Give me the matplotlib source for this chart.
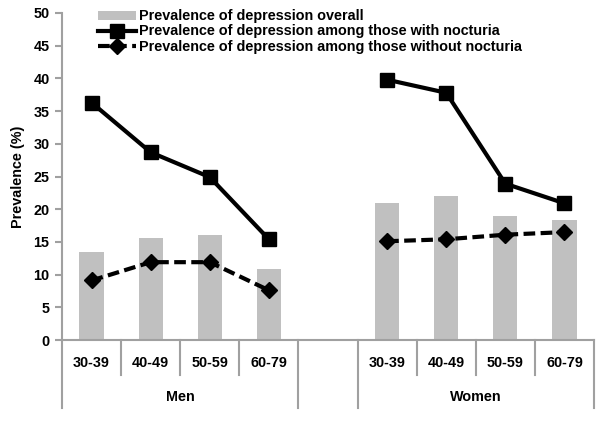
import matplotlib
matplotlib.use("Agg")
import matplotlib.pyplot as plt
from matplotlib.lines import Line2D
from matplotlib.patches import Patch
import matplotlib.transforms as mtransforms

plt.rcParams['font.family'] = ['Liberation Sans', 'DejaVu Sans']
plt.rcParams['font.weight'] = 'bold'

age_groups = ["30-39", "40-49", "50-59", "60-79"]
sexes = ["Men", "Women"]
overall_men = [13.5, 15.6, 16.0, 10.8]
overall_women = [20.9, 22.0, 18.9, 18.3]
with_men = [36.3, 28.7, 24.9, 15.4]
with_women = [39.8, 37.8, 23.9, 20.9]
without_men = [9.1, 11.9, 11.9, 7.6]
without_women = [15.1, 15.4, 16.1, 16.5]
legend_labels = ["Prevalence of depression overall",
                 "Prevalence of depression among those with nocturia",
                 "Prevalence of depression among those without nocturia"]

W, H = 600, 421
fig = plt.figure(figsize=(6, 4.21), dpi=100)
ax = fig.add_axes([62 / W, (H - 340) / H, (594 - 62) / W, (340 - 13) / H])

xm = list(range(4))
xw = [5 + i for i in range(4)]
bar_color = "#c0c0c0"
gray = "#a0a0a0"
fs = 10.4
lw = 3.0
dash = (0, (2.8, 1.3))

ax.bar(xm, overall_men, width=0.41, color=bar_color, zorder=1)
ax.bar(xw, overall_women, width=0.41, color=bar_color, zorder=1)
for xs, ws, wo in [(xm, with_men, without_men), (xw, with_women, without_women)]:
    ax.plot(xs, ws, color="black", lw=lw, marker="s", ms=9.5, zorder=3)
    ax.plot(xs, wo, color="black", lw=lw, ls=dash, marker="D", ms=8.5, zorder=3)

ax.set_xlim(-0.5, 8.5)
ax.set_ylim(0, 50)
ax.set_yticks(range(0, 51, 5))
ax.set_xticks([])
for s in ["top", "right"]:
    ax.spines[s].set_visible(False)
for s in ["left", "bottom"]:
    ax.spines[s].set_color(gray)
    ax.spines[s].set_linewidth(1.5)
ax.tick_params(axis="y", direction="out", length=5, width=1.5, color=gray,
               labelsize=fs, pad=4)
for lab in ax.get_yticklabels():
    lab.set_fontweight("bold")
ax.set_ylabel("Prevalence (%)", fontsize=fs, fontweight="bold", labelpad=6)

trans = mtransforms.blended_transform_factory(ax.transData, ax.transAxes)
ah = 327.0
short_y = -35 / ah
long_y = -68 / ah
for b in [0.5, 1.5, 2.5, 5.5, 6.5, 7.5]:
    ax.plot([b, b], [0, short_y], color=gray, lw=1.5, transform=trans, clip_on=False)
for b in [-0.5, 3.5, 4.5, 8.5]:
    ax.plot([b, b], [0, long_y], color=gray, lw=1.5, transform=trans, clip_on=False)

lab_y = -23 / ah
grp_y = -57 / ah
for xs in (xm, xw):
    for x, a in zip(xs, age_groups):
        ax.text(x, lab_y, a, transform=trans, ha="center", va="center",
                fontsize=fs, fontweight="bold")
ax.text(1.5, grp_y, sexes[0], transform=trans, ha="center", va="center",
        fontsize=fs, fontweight="bold")
ax.text(6.5, grp_y, sexes[1], transform=trans, ha="center", va="center",
        fontsize=fs, fontweight="bold")

handles = [Patch(facecolor=bar_color, edgecolor="none"),
           Line2D([], [], color="black", lw=lw, marker="s", ms=9.5),
           Line2D([], [], color="black", lw=lw, ls=dash, marker="D", ms=8.5)]
leg = fig.legend(handles, legend_labels, loc="upper left",
                 bbox_to_anchor=(91 / W, 1 - 2 / H), frameon=False,
                 prop={"size": fs, "weight": "bold"}, handlelength=2.6,
                 handleheight=0.6, handletextpad=0.2, labelspacing=0.08,
                 borderpad=0)

fig.savefig("out.png", dpi=100)
